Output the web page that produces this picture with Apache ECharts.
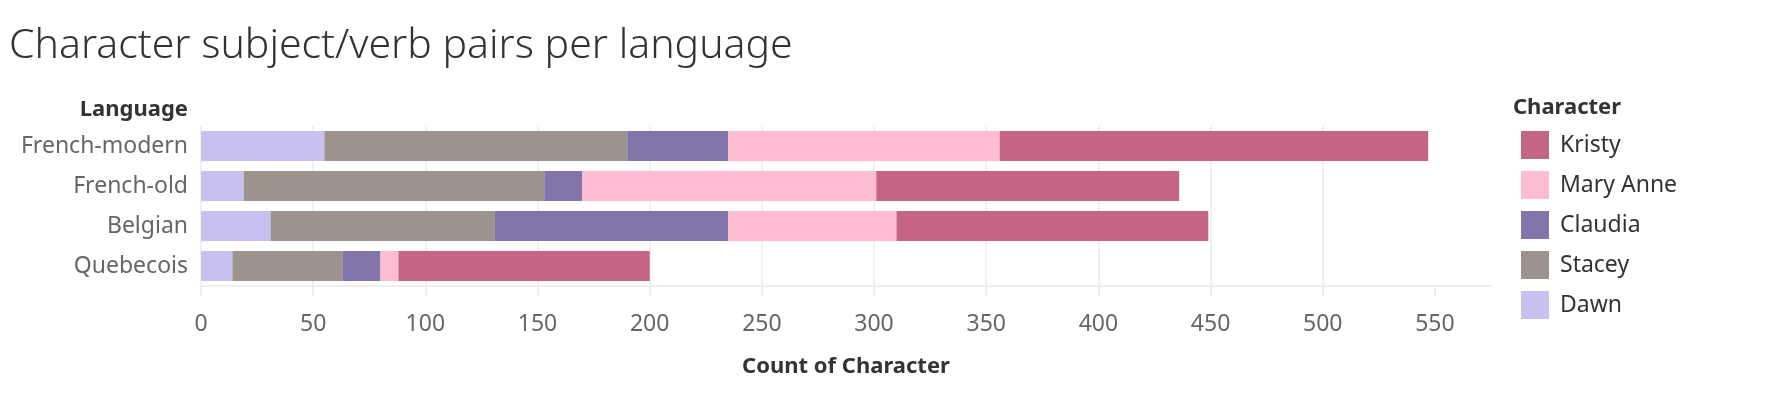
<!DOCTYPE html>
<html>
<head>
<meta charset="utf-8">
<script src="https://cdn.jsdelivr.net/npm/echarts@6/dist/echarts.min.js"></script>
<style>
html,body{margin:0;padding:0;background:#fff;}
#chart{width:1790px;height:396px;}
</style>
</head>
<body>
<div id="chart"></div>
<script>
const languages = ['French-modern', 'French-old', 'Belgian', 'Quebecois'];
const characters = ['Dawn', 'Stacey', 'Claudia', 'Mary Anne', 'Kristy'];
const legendOrder = ['Kristy', 'Mary Anne', 'Claudia', 'Stacey', 'Dawn'];
const dawn = [55, 19, 31, 14];
const stacey = [135, 134, 100, 49];
const claudia = [45, 17, 104, 17];
const maryAnne = [121, 131, 75, 8];
const kristy = [191, 135, 139, 112];
const xTicks = [0, 50, 100, 150, 200, 250, 300, 350, 400, 450, 500, 550];
const colors = {
  'Dawn': '#c7c1f0',
  'Stacey': '#9c938f',
  'Claudia': '#8175a9',
  'Mary Anne': '#febcd2',
  'Kristy': '#c46588'
};
const valuesByChar = {
  'Dawn': dawn, 'Stacey': stacey, 'Claudia': claudia, 'Mary Anne': maryAnne, 'Kristy': kristy
};

const chart = echarts.init(document.getElementById('chart'));
const font = 'Noto Sans';
chart.setOption({
  animation: false,
  textStyle: { fontFamily: font },
  graphic: [
    { type: 'text', left: 9, top: 26, style: { text: 'Character subject/verb pairs per language', fontSize: 41, fontFamily: font, fill: '#333', fontWeight: 300 } },
    { type: 'text', x: 188, y: 110, style: { text: 'Language', fontSize: 22, fontWeight: 'bold', fontFamily: font, fill: '#333', align: 'right', verticalAlign: 'middle' } },
    { type: 'text', x: 1513, y: 108, style: { text: 'Character', fontSize: 22, fontWeight: 'bold', fontFamily: font, fill: '#333', align: 'left', verticalAlign: 'middle' } }
  ],
  grid: { left: 201, right: 299, top: 126, height: 160, containLabel: false },
  legend: {
    data: legendOrder,
    orient: 'vertical',
    left: 1516,
    top: 126,
    itemWidth: 28,
    itemHeight: 28,
    itemGap: 12,
    icon: 'rect',
    selectedMode: false,
    textStyle: { fontSize: 23, color: '#333', fontFamily: font, padding: [0, 0, 0, 6] }
  },
  xAxis: {
    type: 'value',
    min: 0,
    max: 575,
    interval: 50,
    name: 'Count of Character',
    nameLocation: 'middle',
    nameGap: 70,
    nameTextStyle: { fontSize: 22, fontWeight: 'bold', color: '#333', fontFamily: font },
    axisLine: { show: true, lineStyle: { color: '#eeeeee', width: 2 } },
    axisTick: { show: true, length: 10, customValues: xTicks, lineStyle: { color: '#eeeeee', width: 2 } },
    axisLabel: { fontSize: 23, color: '#666', margin: 27, customValues: xTicks, fontFamily: font },
    splitLine: { show: true, showMaxLine: false, lineStyle: { color: '#f0f0f0', width: 2 } }
  },
  yAxis: {
    type: 'category',
    data: languages,
    inverse: true,
    axisLine: { show: false },
    axisTick: { show: false },
    axisLabel: { fontSize: 23, color: '#666', margin: 13, fontFamily: font }
  },
  series: characters.map(c => ({
    name: c,
    type: 'bar',
    stack: 'total',
    barWidth: 30,
    itemStyle: { color: colors[c] },
    data: valuesByChar[c]
  }))
});
</script>
</body>
</html>
